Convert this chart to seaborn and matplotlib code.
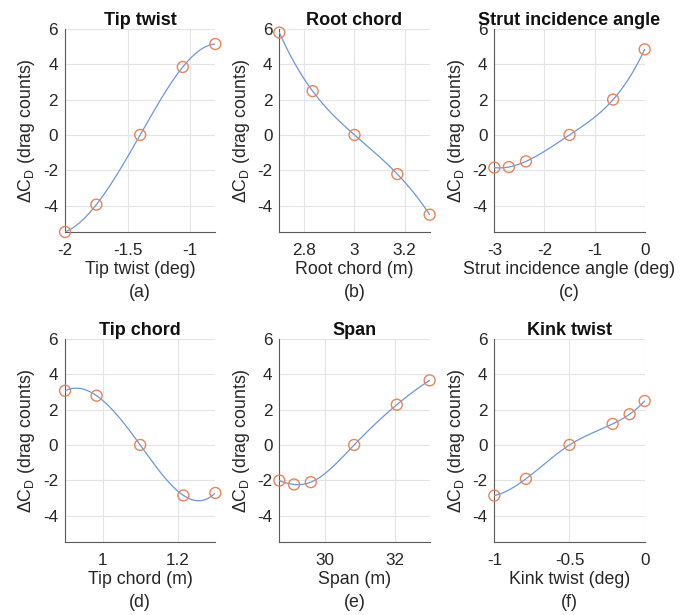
import numpy as np
import pandas as pd
import matplotlib
matplotlib.use("Agg")
import matplotlib.pyplot as plt
import seaborn as sns

# ---------------- data ----------------
tip_twist_x = [-2.0, -1.75, -1.40, -1.06, -0.80]
tip_twist_y = [-5.5, -3.95, 0.0, 3.85, 5.15]

root_chord_x = [2.70, 2.833, 3.00, 3.171, 3.30]
root_chord_y = [5.8, 2.48, 0.0, -2.22, -4.52]

strut_x = [-3.0, -2.71, -2.37, -1.50, -0.63, 0.0]
strut_y = [-1.85, -1.82, -1.50, 0.0, 2.0, 4.85]

tip_chord_x = [0.90, 0.984, 1.10, 1.215, 1.30]
tip_chord_y = [3.07, 2.79, 0.0, -2.86, -2.72]

span_x = [28.7, 29.12, 29.6, 30.84, 32.06, 33.0]
span_y = [-2.02, -2.24, -2.11, 0.0, 2.28, 3.66]

kink_x = [-1.0, -0.79, -0.5, -0.213, -0.10, 0.0]
kink_y = [-2.87, -1.92, 0.0, 1.19, 1.74, 2.49]

titles = ["Tip twist", "Root chord", "Strut incidence angle",
          "Tip chord", "Span", "Kink twist"]
xlabels = ["Tip twist (deg)", "Root chord (m)", "Strut incidence angle (deg)",
           "Tip chord (m)", "Span (m)", "Kink twist (deg)"]
panel_tags = ["(a)", "(b)", "(c)", "(d)", "(e)", "(f)"]
xlims = [(-2, -0.8), (2.7, 3.3), (-3, 0), (0.9, 1.3), (28.7, 33.0), (-1, 0)]
xticks = [[-2, -1.5, -1], [2.8, 3, 3.2], [-3, -2, -1, 0],
          [1, 1.2], [30, 32], [-1, -0.5, 0]]
xticklabels = [["-2", "-1.5", "-1"], ["2.8", "3", "3.2"], ["-3", "-2", "-1", "0"],
               ["1", "1.2"], ["30", "32"], ["-1", "-0.5", "0"]]
yticks = [-4, -2, 0, 2, 4, 6]
yticklabels = ["-4", "-2", "0", "2", "4", "6"]

series = [(tip_twist_x, tip_twist_y), (root_chord_x, root_chord_y),
          (strut_x, strut_y), (tip_chord_x, tip_chord_y),
          (span_x, span_y), (kink_x, kink_y)]


def notaknot_spline(x, y, xs):
    x = np.asarray(x, float); y = np.asarray(y, float)
    n = len(x); h = np.diff(x)
    A = np.zeros((n, n)); b = np.zeros(n)
    A[0, 0], A[0, 1], A[0, 2] = h[1], -(h[0] + h[1]), h[0]
    for i in range(1, n - 1):
        A[i, i - 1] = h[i - 1]
        A[i, i] = 2 * (h[i - 1] + h[i])
        A[i, i + 1] = h[i]
        b[i] = 6 * ((y[i + 1] - y[i]) / h[i] - (y[i] - y[i - 1]) / h[i - 1])
    A[-1, -3], A[-1, -2], A[-1, -1] = h[-1], -(h[-2] + h[-1]), h[-2]
    M = np.linalg.solve(A, b)
    idx = np.clip(np.searchsorted(x, xs) - 1, 0, n - 2)
    x0, x1 = x[idx], x[idx + 1]; hh = x1 - x0
    return (M[idx] * (x1 - xs) ** 3 / (6 * hh) + M[idx + 1] * (xs - x0) ** 3 / (6 * hh)
            + (y[idx] / hh - M[idx] * hh / 6) * (x1 - xs)
            + (y[idx + 1] / hh - M[idx + 1] * hh / 6) * (xs - x0))


sns.set_style("white")
plt.rcParams["font.family"] = ["Liberation Sans", "DejaVu Sans"]
plt.rcParams["mathtext.fontset"] = "custom"
plt.rcParams["mathtext.rm"] = "Liberation Sans"
plt.rcParams["mathtext.it"] = "Liberation Sans"

line_color = "#6b97de"
marker_color = "#e8845a"
grid_color = "#e4e4e4"
spine_color = "#5a5a5a"
text_color = "#262626"

fig = plt.figure(figsize=(6.94, 6.15), dpi=100)
lefts = [0.0937, 0.4025, 0.7123]
bottoms = [0.6228, 0.1187]
w, hgt = 0.2166, 0.330

for k in range(6):
    r, c = divmod(k, 3)
    ax = fig.add_axes([lefts[c], bottoms[r], w, hgt])
    xs_pts, ys_pts = series[k]
    xf = np.linspace(xs_pts[0], xs_pts[-1], 300)
    yf = notaknot_spline(xs_pts, ys_pts, xf)
    curve = pd.DataFrame({"x": xf, "y": yf})
    pts = pd.DataFrame({"x": xs_pts, "y": ys_pts})
    sns.lineplot(data=curve, x="x", y="y", ax=ax, color=line_color,
                 linewidth=0.9, sort=False, zorder=3)
    sns.scatterplot(data=pts, x="x", y="y", ax=ax, marker="o", s=62,
                    facecolor="none", edgecolor=marker_color, linewidth=1.0,
                    zorder=4, clip_on=False)
    ax.set_xlim(*xlims[k])
    ax.set_ylim(-5.5, 6)
    ax.set_xticks(xticks[k])
    ax.set_xticklabels(xticklabels[k])
    ax.set_yticks(yticks)
    ax.set_yticklabels(yticklabels)
    ax.grid(True, color=grid_color, linewidth=0.8)
    ax.set_axisbelow(True)
    for s in ["top", "right"]:
        ax.spines[s].set_visible(False)
    for s in ["left", "bottom"]:
        ax.spines[s].set_color(spine_color)
        ax.spines[s].set_linewidth(0.8)
    ax.tick_params(axis="x", pad=8)
    ax.tick_params(axis="y", pad=5)
    ax.tick_params(axis="both", labelsize=12.3, colors=text_color,
                   length=3, direction="in", color=spine_color)
    ax.set_title(titles[k], fontsize=13, fontweight="bold", color="#111111", pad=3)
    ax.set_xlabel(xlabels[k], fontsize=12.8, color=text_color, labelpad=2)
    ax.set_ylabel(r"$\mathregular{\Delta C_D}$ (drag counts)", fontsize=12.8,
                  color=text_color, labelpad=4)
    ax.text(0.5, -0.30, panel_tags[k], transform=ax.transAxes, ha="center",
            va="center", fontsize=12.8, color=text_color)

fig.savefig("out.png", dpi=100)
